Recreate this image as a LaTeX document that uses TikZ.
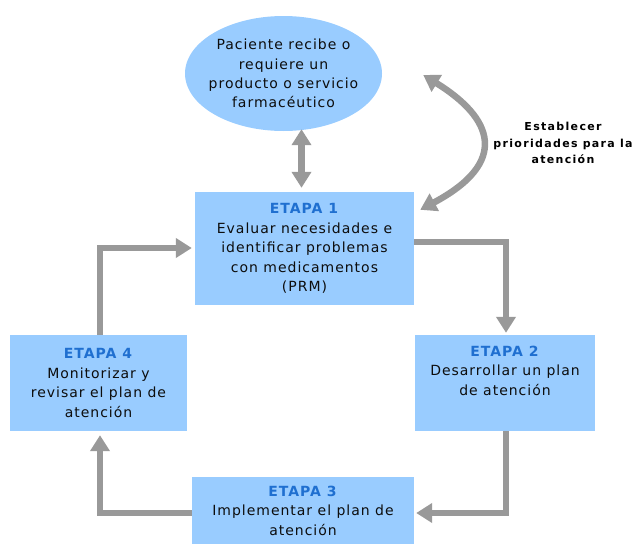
\documentclass[tikz,border=0pt]{standalone}
\usepackage{fontspec}
\setmainfont{DejaVu Sans}
\newfontfamily\verd[LetterSpace=7]{DejaVu Sans}
\newfontfamily\espaciada[LetterSpace=12]{DejaVu Sans}
\usetikzlibrary{shapes.geometric,arrows.meta}
\definecolor{boxblue}{HTML}{99CCFF}
\definecolor{etapa}{HTML}{1F6FD0}
\definecolor{flecha}{HTML}{999999}
\newcommand{\etapa}[1]{\textcolor{etapa}{\textbf{ETAPA #1}}}
\begin{document}
\begin{tikzpicture}[x=1pt, y=-1pt,
  box/.style = {fill=boxblue, rectangle, align=center, inner sep=0pt, font=\fontsize{14}{19.5}\verd, text=black!95},
  arr/.style = {flecha, line width=6.5pt, -{Triangle[width=19pt,length=16pt]}},
  darr/.style = {arr, {Triangle[width=19pt,length=16pt]}-{Triangle[width=19pt,length=16pt]}}]
\useasboundingbox (0,0) rectangle (635,544);
\node[box, ellipse, inner sep=-8pt, minimum width=197pt, minimum height=115pt, font=\fontsize{14}{19.2}\verd] (p) at (283.5,73.5) {Paciente recibe o\\requiere un\\producto o servicio\\farmacéutico};
\node[box, minimum width=219pt, minimum height=113pt] (1) at (304.5,248.5) {\etapa{1}\\Evaluar necesidades e\\identificar problemas\\con medicamentos\\(PRM)};
\node[box, minimum width=180pt, text height=60pt, text depth=36pt] (2) at (505,383) {\etapa{2}\\Desarrollar un plan\\de atención};
\node[box, minimum width=222pt, minimum height=67pt] (3) at (303,510.5) {\etapa{3}\\Implementar el plan de\\atención};
\node[box, minimum width=177pt, minimum height=96pt] (4) at (98.5,383) {\etapa{4}\\Monitorizar y\\revisar el plan de\\atención};
\node[align=center, font=\fontsize{11}{16.5}\espaciada\bfseries] (t) at (563,143) {Establecer\\prioridades para la\\atención};
\draw[darr] ([xshift=18pt,yshift=2pt]p.south) -- ([xshift=-3pt,yshift=4pt]1.north);
\draw[darr] ([xshift=41pt,yshift=-1.5pt]p.east) .. controls (493,118) and (510,162) .. ([xshift=6pt,yshift=-18pt]1.north east);
\draw[arr] ([yshift=6.5pt]1.east) -| ([xshift=1pt,yshift=2pt]2.north);
\draw[arr] ([xshift=1pt]2.south) |- ([xshift=2pt,yshift=-2.5pt]3.east);
\draw[arr] ([yshift=-2.5pt]3.west) -| ([xshift=1.5pt,yshift=-4pt]4.south);
\draw[arr] ([xshift=1.5pt]4.north) |- ([xshift=-3pt,yshift=0.5pt]1.west);
\end{tikzpicture}
\end{document}
